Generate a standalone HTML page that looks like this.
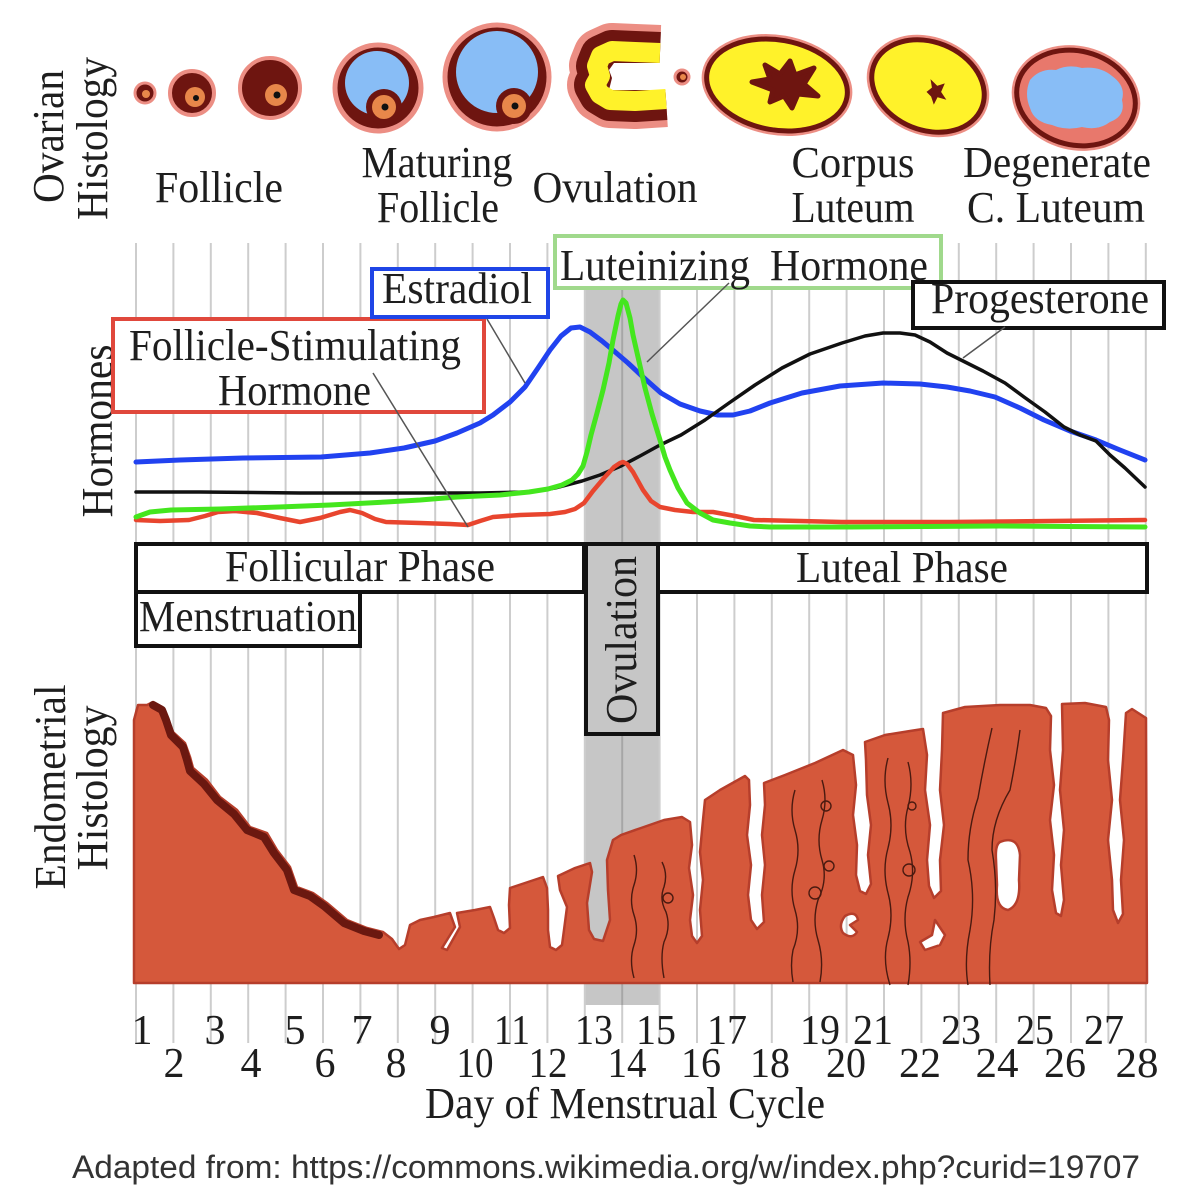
<!DOCTYPE html>
<html><head><meta charset="utf-8">
<style>
html,body{margin:0;padding:0;background:#fff;}
svg{display:block;}
.s{font-family:"Liberation Serif",serif;fill:#1e1e1e;font-size:44px;}
.d{font-family:"Liberation Serif",serif;fill:#1e1e1e;font-size:42px;text-anchor:middle;}
</style></head><body>
<svg width="1192" height="1200" viewBox="0 0 1192 1200" xmlns="http://www.w3.org/2000/svg">
<rect width="1192" height="1200" fill="#fff"/>

<!-- gray ovulation band -->
<rect x="585" y="288" width="74" height="717" fill="#c6c6c6"/>

<!-- grid lines -->
<g stroke="#cdcdcd" stroke-width="2">
<line x1="136" y1="243" x2="136" y2="1043"/><line x1="173.4" y1="243" x2="173.4" y2="1043"/>
<line x1="210.8" y1="243" x2="210.8" y2="1043"/><line x1="248.2" y1="243" x2="248.2" y2="1043"/>
<line x1="285.6" y1="243" x2="285.6" y2="1043"/><line x1="323" y1="243" x2="323" y2="1043"/>
<line x1="360.4" y1="243" x2="360.4" y2="1043"/><line x1="397.8" y1="243" x2="397.8" y2="1043"/>
<line x1="435.2" y1="243" x2="435.2" y2="1043"/><line x1="472.6" y1="243" x2="472.6" y2="1043"/>
<line x1="510" y1="243" x2="510" y2="1043"/><line x1="547.4" y1="243" x2="547.4" y2="1043"/>
<line x1="584.8" y1="243" x2="584.8" y2="1043"/><line x1="622.2" y1="243" x2="622.2" y2="1043"/>
<line x1="659.6" y1="243" x2="659.6" y2="1043"/><line x1="697" y1="243" x2="697" y2="1043"/>
<line x1="734.4" y1="243" x2="734.4" y2="1043"/><line x1="771.8" y1="243" x2="771.8" y2="1043"/>
<line x1="809.2" y1="243" x2="809.2" y2="1043"/><line x1="846.6" y1="243" x2="846.6" y2="1043"/>
<line x1="884" y1="243" x2="884" y2="1043"/><line x1="921.4" y1="243" x2="921.4" y2="1043"/>
<line x1="958.8" y1="243" x2="958.8" y2="1043"/><line x1="996.2" y1="243" x2="996.2" y2="1043"/>
<line x1="1033.6" y1="243" x2="1033.6" y2="1043"/><line x1="1071" y1="243" x2="1071" y2="1043"/>
<line x1="1108.4" y1="243" x2="1108.4" y2="1043"/><line x1="1145.8" y1="243" x2="1145.8" y2="1043"/>
</g>
<line x1="622.2" y1="288" x2="622.2" y2="1005" stroke="#a6a6a6" stroke-width="2"/>

<!-- ===== Ovarian histology ===== -->
<g>
  <circle cx="145" cy="93" r="10" fill="#6e1510" stroke="#ec8e84" stroke-width="3"/>
  <circle cx="146" cy="94" r="4" fill="#e8874a"/>

  <circle cx="192" cy="93" r="22" fill="#6e1510" stroke="#ec8e84" stroke-width="4"/>
  <circle cx="195" cy="97" r="10" fill="#e8874a"/>
  <circle cx="196" cy="98" r="3" fill="#111"/>

  <circle cx="270" cy="88" r="30" fill="#6e1510" stroke="#ec8e84" stroke-width="4"/>
  <circle cx="276" cy="95" r="11" fill="#e8874a"/>
  <circle cx="277" cy="95" r="3.5" fill="#111"/>

  <circle cx="378" cy="88" r="43" fill="#6e1510" stroke="#ec8e84" stroke-width="5"/>
  <circle cx="377" cy="83" r="32" fill="#88bdf6"/>
  <circle cx="384" cy="107" r="18" fill="#6e1510"/>
  <circle cx="384" cy="107" r="12" fill="#e8874a"/>
  <circle cx="385" cy="107" r="3.5" fill="#111"/>

  <circle cx="497" cy="77" r="52" fill="#6e1510" stroke="#ec8e84" stroke-width="5"/>
  <circle cx="497" cy="72" r="41" fill="#88bdf6"/>
  <circle cx="514" cy="106" r="18" fill="#6e1510"/>
  <circle cx="514" cy="106" r="12" fill="#e8874a"/>
  <circle cx="515" cy="106" r="3.5" fill="#111"/>

  <!-- ovulation C -->
  <path d="M660,53 L635,52 L612,51 L601,56 L597,66 L600,76 L595,85 L600,94 L610,100 L635,101 L666,99" fill="none" stroke="#ec8e84" stroke-width="56" stroke-linejoin="round"/>
  <path d="M660,53 L635,52 L612,51 L601,56 L597,66 L600,76 L595,85 L600,94 L610,100 L635,101 L666,99" fill="none" stroke="#6e1510" stroke-width="42" stroke-linejoin="round"/>
  <path d="M680,63 L614,63 L609,70 L612,78 L609,90 L680,90 Z" fill="#fff"/>
  <path d="M660,53 L635,52 L612,51 L601,56 L597,66 L600,76 L595,85 L600,94 L610,100 L635,101 L666,99" fill="none" stroke="#fff22a" stroke-width="20" stroke-linejoin="round"/>
  <circle cx="682" cy="77" r="7" fill="#6e1510" stroke="#ec8e84" stroke-width="3"/>
  <circle cx="683" cy="77" r="3" fill="#e8874a"/>

  <!-- corpus luteum 1 -->
  <ellipse cx="777" cy="85" rx="71" ry="45" transform="rotate(10 777 85)" fill="#fff22a" stroke="#ec8e84" stroke-width="10"/>
  <ellipse cx="777" cy="85" rx="71" ry="45" transform="rotate(10 777 85)" fill="#fff22a" stroke="#6e1510" stroke-width="5"/>
  <polygon points="752,82 770,79 765,65 780,74 790,61 795,75 814,68 804,84 818,96 798,94 792,108 784,96 770,102 773,90" fill="#6e1510" stroke="#6e1510" stroke-width="5" stroke-linejoin="round"/>

  <!-- corpus luteum 2 -->
  <ellipse cx="928" cy="86" rx="58" ry="44" transform="rotate(22 928 86)" fill="#fff22a" stroke="#ec8e84" stroke-width="10"/>
  <ellipse cx="928" cy="86" rx="58" ry="44" transform="rotate(22 928 86)" fill="#fff22a" stroke="#6e1510" stroke-width="5"/>
  <polygon points="928,92 933,88 932,82 937,87 943,85 940,92 944,98 937,96 934,102 932,96" fill="#6e1510" stroke="#6e1510" stroke-width="2"/>

  <!-- degenerate -->
  <ellipse cx="1076" cy="98" rx="60" ry="47" transform="rotate(14 1076 98)" fill="#e8786c" stroke="#ec8e84" stroke-width="10"/>
  <ellipse cx="1076" cy="98" rx="60" ry="47" transform="rotate(14 1076 98)" fill="#e8786c" stroke="#6e1510" stroke-width="5"/>
  <path d="M1030,80 Q1040,68 1056,70 Q1068,64 1082,68 Q1100,66 1112,76 Q1126,86 1122,100 Q1126,116 1110,122 Q1098,131 1082,127 Q1066,131 1052,125 Q1034,122 1030,108 Q1024,94 1030,80 Z" fill="#88bdf6"/>
</g>

<!-- ovarian labels -->
<text class="s" x="219" y="202" text-anchor="middle" textLength="128" lengthAdjust="spacingAndGlyphs">Follicle</text>
<text class="s" x="437" y="177" text-anchor="middle" textLength="151" lengthAdjust="spacingAndGlyphs">Maturing</text>
<text class="s" x="438" y="222" text-anchor="middle" textLength="122" lengthAdjust="spacingAndGlyphs">Follicle</text>
<text class="s" x="615" y="202" text-anchor="middle" textLength="165" lengthAdjust="spacingAndGlyphs">Ovulation</text>
<text class="s" x="853" y="177" text-anchor="middle" textLength="123" lengthAdjust="spacingAndGlyphs">Corpus</text>
<text class="s" x="853" y="222" text-anchor="middle" textLength="123" lengthAdjust="spacingAndGlyphs">Luteum</text>
<text class="s" x="1057" y="177" text-anchor="middle" textLength="188" lengthAdjust="spacingAndGlyphs">Degenerate</text>
<text class="s" x="1056" y="222" text-anchor="middle" textLength="178" lengthAdjust="spacingAndGlyphs">C. Luteum</text>

<!-- rotated side labels -->
<text class="s" text-anchor="middle" transform="translate(63,136.5) rotate(-90)" textLength="133" lengthAdjust="spacingAndGlyphs">Ovarian</text>
<text class="s" text-anchor="middle" transform="translate(107,138.5) rotate(-90)" textLength="163" lengthAdjust="spacingAndGlyphs">Histology</text>
<text class="s" text-anchor="middle" transform="translate(112,431) rotate(-90)" textLength="173" lengthAdjust="spacingAndGlyphs">Hormones</text>
<text class="s" text-anchor="middle" transform="translate(65,787) rotate(-90)" textLength="205" lengthAdjust="spacingAndGlyphs">Endometrial</text>
<text class="s" text-anchor="middle" transform="translate(107,788) rotate(-90)" textLength="165" lengthAdjust="spacingAndGlyphs">Histology</text>

<!-- hormone curves -->
<g fill="none" stroke-linejoin="round" stroke-linecap="round">
<polyline stroke="#2142f0" stroke-width="5" points="136,462 180,460 243,458 321,457 370,453 404,448 435,441 457,433 480,423 493,415 510,402 525,387 538,368 550,350 561,336 571,328 580,327 590,332 602,341 614,351 628,363 643,377 661,393 680,404 700,411 718,415 733,415 750,411 770,403 802,393 840,386 883,383 920,384 947,387 970,391 995,397 1020,408 1044,420 1070,431 1096,440 1120,450 1145,460"/>
<polyline stroke="#111" stroke-width="3.5" points="136,492 200,492 300,493 400,493 480,493 529,492 555,488 582,481 600,475 621,466 640,456 660,445 681,435 705,420 729,403 755,385 782,368 810,354 842,343 865,336 883,333 900,333 915,335 930,342 947,353 965,362 983,371 1005,383 1024,397 1045,412 1064,427 1080,435 1096,441 1110,455 1125,468 1145,487"/>
<polyline stroke="#e8452e" stroke-width="4.5" points="136,520 160,521 189,520 205,516 218,512 235,511 257,513 280,518 300,522 320,518 340,512 350,510 362,513 375,519 386,522 420,523 450,524 468,525 480,521 493,517 520,515 550,514 565,512 575,509 584,503 593,491 604,478 614,467 620,463 623,462 627,464 633,472 643,490 651,501 660,507 675,510 693,512 713,512 735,516 754,520 800,521 842,522 950,522 1050,521 1145,520"/>
<polyline stroke="#44e61e" stroke-width="5" points="136,517 150,512 171,510 220,509 279,507 330,505 386,502 420,500 457,497 500,495 529,492 548,489 562,485 572,480 578,474 583,466 587,452 591,435 597,413 603,390 609,363 613,340 618,316 621,304 623,300 626,303 630,318 633,335 638,357 645,388 652,414 660,440 665,457 670,470 678,488 687,503 700,513 713,520 730,523 750,526 770,527 850,527 1000,526 1145,527"/>
</g>

<!-- hormone label boxes -->
<rect x="113" y="319" width="371" height="93" fill="#fff" stroke="#e0483c" stroke-width="4"/>
<rect x="372" y="269" width="176" height="48" fill="#fff" stroke="#1f45e6" stroke-width="4"/>
<rect x="555" y="236" width="386" height="52" fill="#fff" stroke="#a0d98c" stroke-width="4"/>
<rect x="913" y="282" width="251" height="46" fill="#fff" stroke="#111" stroke-width="4"/>

<text class="s" x="129" y="360" textLength="332" lengthAdjust="spacingAndGlyphs">Follicle-Stimulating</text>
<text class="s" x="218" y="405" textLength="153" lengthAdjust="spacingAndGlyphs">Hormone</text>
<text class="s" x="382" y="303" textLength="150" lengthAdjust="spacingAndGlyphs">Estradiol</text>
<text class="s" x="560" y="280" textLength="190" lengthAdjust="spacingAndGlyphs">Luteinizing</text>
<text class="s" x="770" y="280" textLength="158" lengthAdjust="spacingAndGlyphs">Hormone</text>
<text class="s" x="931" y="313" textLength="218" lengthAdjust="spacingAndGlyphs">Progesterone</text>

<!-- pointer lines -->
<g stroke="#555" stroke-width="1.5">
<line x1="373" y1="373" x2="468" y2="527"/>
<line x1="487" y1="319" x2="525" y2="383"/>
<line x1="729" y1="283" x2="647" y2="362"/>
<line x1="1005" y1="327" x2="963" y2="358"/>
</g>

<!-- phase boxes -->
<rect x="136" y="544" width="448" height="48" fill="#fff" stroke="#111" stroke-width="4"/>
<rect x="658" y="544" width="489" height="48" fill="#fff" stroke="#111" stroke-width="4"/>
<rect x="136" y="592" width="224" height="54" fill="#fff" stroke="#111" stroke-width="4"/>
<rect x="586" y="544" width="72" height="190" fill="#c6c6c6" stroke="#111" stroke-width="4"/>
<text class="s" x="225" y="581" textLength="270" lengthAdjust="spacingAndGlyphs">Follicular Phase</text>
<text class="s" x="796" y="582" textLength="212" lengthAdjust="spacingAndGlyphs">Luteal Phase</text>
<text class="s" x="139" y="631" textLength="218" lengthAdjust="spacingAndGlyphs">Menstruation</text>
<text class="s" text-anchor="middle" transform="translate(636,640) rotate(-90)" textLength="168" lengthAdjust="spacingAndGlyphs">Ovulation</text>

<!-- endometrium -->
<path fill="#d5583b" stroke="#b63e2b" stroke-width="2.5" stroke-linejoin="round" fill-rule="evenodd" d="
M134,983 L134,720 L138,705 L147,705 L153,702 L162,707 L167,717 L173,732 L185,743 L190,757 L193,768 L207,780 L220,797 L237,810 L250,827 L267,833 L277,850 L290,867 L297,887 L313,893 L327,903 L347,920 L367,928 L383,932 L392,939 L399,949 L405,945 L410,925 L420,920 L434,917 L450,913
L455,927 L442,948 L447,950 L460,927 L457,913
L475,910 L490,907
L494,918 L498,930 L504,933 L510,928 L509,905 L510,888
L528,882 L543,877
L547,888 L548,910 L548,930 L550,947 L556,950 L562,945 L564,930 L567,907 L560,890 L558,876
L575,868 L590,863
L592,872 L587,903 L589,930 L594,939 L603,941 L610,920 L608,890 L607,860 L613,840 L621,835
L641,828 L664,820 L682,817 L690,822
L692,845 L689,868 L693,895 L690,920 L692,936 L697,943 L702,936 L700,910 L703,880 L700,852 L703,820 L705,800
L720,790 L745,776 L749,780
L750,805 L747,835 L751,865 L748,895 L751,920 L757,929 L764,922 L762,895 L765,865 L762,835 L765,805 L764,783
L785,775 L815,763 L843,750 L853,755
L856,785 L853,815 L857,845 L856,875 L860,891 L866,894 L871,884 L868,855 L871,825 L867,795 L866,760 L865,742
L885,735 L910,731 L923,729
L927,755 L925,790 L930,825 L927,860 L929,886 L934,898 L941,891 L940,860 L944,825 L940,790 L942,750 L943,713
L965,707 L1000,705 L1030,705 L1046,708 L1051,716
L1050,750 L1054,785 L1050,820 L1054,855 L1052,890 L1056,913 L1061,916 L1064,900 L1061,865 L1064,830 L1060,790 L1063,750 L1062,704
L1085,703 L1106,707 L1109,720
L1108,760 L1112,800 L1108,840 L1112,880 L1113,910 L1118,923 L1123,914 L1121,880 L1124,840 L1120,800 L1123,760 L1126,713
L1132,709 L1146,718 L1147,983 Z
M1000,842 Q1018,835 1020,855 L1019,880 Q1021,905 1008,910 Q995,908 997,885 L996,860 Q995,845 1000,842 Z
M845,916 Q856,910 858,920 L850,925 L857,932 Q852,940 843,933 Q838,925 845,916 Z
M935,920 L945,935 L940,945 L925,950 L920,942 L932,935 Z"/>

<!-- menstrual dark band -->
<polyline fill="none" stroke="#6b1810" stroke-width="8" stroke-linejoin="round" stroke-linecap="round" points="153,705 162,710 166,720 171,735 183,747 187,760 190,771 204,784 217,800 234,814 247,830 264,837 274,853 287,870 294,890 310,896 324,906 344,923 364,931 379,935"/>

<!-- vessels -->
<g fill="none" stroke="#4a1a10" stroke-width="1.4">
<path d="M634,855 q5,15 0,30 q-5,15 0,30 q5,15 0,30 q-5,15 0,33"/>
<path d="M662,862 q6,12 2,25 q-5,12 2,25 q5,15 -2,30 q-4,15 0,36"/>
<circle cx="668" cy="898" r="5"/>
<path d="M795,790 q-6,20 0,40 q6,20 0,40 q-6,20 0,40 q6,20 -2,40 q-3,15 0,32"/>
<path d="M822,780 q6,20 0,40 q-6,20 0,40 q6,20 -4,40 q-6,20 0,40 q6,20 2,42"/>
<circle cx="826" cy="806" r="5"/><circle cx="829" cy="866" r="5"/><circle cx="815" cy="893" r="6"/>
<path d="M888,758 q-6,22 0,45 q6,22 0,45 q-6,22 0,45 q6,22 0,45 q-6,22 2,47"/>
<path d="M908,762 q6,22 0,45 q-6,22 2,45 q6,22 -2,45 q-6,22 0,45 q4,20 0,43"/>
<circle cx="912" cy="806" r="4"/><circle cx="909" cy="870" r="6"/>
<path d="M992,728 q-8,35 -14,70 q-10,30 -10,62 q8,35 2,70 q-6,30 -2,55"/>
<path d="M1020,730 q-4,30 -10,60 q-18,30 -18,60 q6,35 2,70 q-6,30 -4,65"/>
</g>

<!-- tick labels -->
<g>
<text class="d" x="142" y="1044">1</text>
<text class="d" x="215" y="1044">3</text>
<text class="d" x="295" y="1044">5</text>
<text class="d" x="362" y="1044">7</text>
<text class="d" x="440" y="1044">9</text>
<text class="d" x="512" y="1044" textLength="36" lengthAdjust="spacingAndGlyphs">11</text>
<text class="d" x="594" y="1044" textLength="38" lengthAdjust="spacingAndGlyphs">13</text>
<text class="d" x="656" y="1044" textLength="40" lengthAdjust="spacingAndGlyphs">15</text>
<text class="d" x="727" y="1044" textLength="40" lengthAdjust="spacingAndGlyphs">17</text>
<text class="d" x="820" y="1044" textLength="40" lengthAdjust="spacingAndGlyphs">19</text>
<text class="d" x="873" y="1044" textLength="40" lengthAdjust="spacingAndGlyphs">21</text>
<text class="d" x="961" y="1044" textLength="40" lengthAdjust="spacingAndGlyphs">23</text>
<text class="d" x="1035" y="1044" textLength="38" lengthAdjust="spacingAndGlyphs">25</text>
<text class="d" x="1104" y="1044" textLength="40" lengthAdjust="spacingAndGlyphs">27</text>
<text class="d" x="174" y="1077">2</text>
<text class="d" x="251" y="1077">4</text>
<text class="d" x="325" y="1077">6</text>
<text class="d" x="396" y="1077">8</text>
<text class="d" x="475" y="1077" textLength="37" lengthAdjust="spacingAndGlyphs">10</text>
<text class="d" x="548" y="1077" textLength="39" lengthAdjust="spacingAndGlyphs">12</text>
<text class="d" x="627" y="1077" textLength="39" lengthAdjust="spacingAndGlyphs">14</text>
<text class="d" x="701" y="1077" textLength="40" lengthAdjust="spacingAndGlyphs">16</text>
<text class="d" x="770" y="1077" textLength="40" lengthAdjust="spacingAndGlyphs">18</text>
<text class="d" x="846" y="1077" textLength="40" lengthAdjust="spacingAndGlyphs">20</text>
<text class="d" x="920" y="1077" textLength="42" lengthAdjust="spacingAndGlyphs">22</text>
<text class="d" x="997" y="1077" textLength="43" lengthAdjust="spacingAndGlyphs">24</text>
<text class="d" x="1065" y="1077" textLength="42" lengthAdjust="spacingAndGlyphs">26</text>
<text class="d" x="1137" y="1077" textLength="43" lengthAdjust="spacingAndGlyphs">28</text>
</g>

<text class="s" x="425" y="1118" textLength="400" lengthAdjust="spacingAndGlyphs">Day of Menstrual Cycle</text>

<text x="72" y="1178" font-family="Liberation Sans, DejaVu Sans, sans-serif" font-size="32" fill="#333" textLength="1068" lengthAdjust="spacingAndGlyphs">Adapted from: https://commons.wikimedia.org/w/index.php?curid=19707</text>
</svg>
</body></html>
